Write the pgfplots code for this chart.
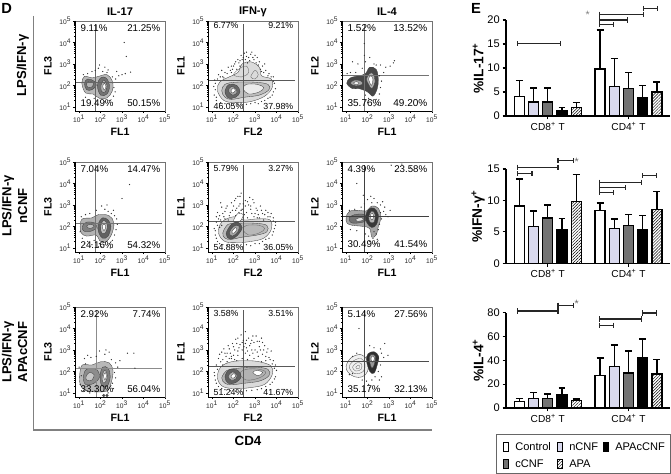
\documentclass[border=0pt]{standalone}
\usepackage{fontspec}
\setmainfont{Liberation Sans}
\usepackage{pgfplots}
\pgfplotsset{compat=1.18}
\usetikzlibrary{patterns.meta}

% fonts, sizes in pt (1 px of the reference = 0.75 pt)
\newcommand\fsz[1]{\fontsize{#1}{#1}\selectfont}
\definecolor{lav}{HTML}{D9D9EE}
\definecolor{midgray}{HTML}{737373}

% one contour of a flow plot: fill shade, then the closed outline in log10 units
\newcommand\ct[2]{\addplot[smooth cycle,tension=0.6,draw=black!75,line width=0.25pt,fill=black!#1] coordinates {#2};}
\newcommand\cln[1]{\addplot[smooth cycle,tension=0.6,draw=black!60,line width=0.25pt] coordinates {#1};}
\newcommand\pts[1]{\addplot[only marks,mark=*,mark size=0.22pt,black!80] coordinates {#1};}
% quadrant lines: vertical x, horizontal y, shade
\newcommand\quadr[3]{%
  \addplot[black!#3,line width=0.7pt] coordinates {(#1,0.81) (#1,4.85)};
  \addplot[black!#3,line width=0.7pt] coordinates {(0.81,#2) (4.85,#2)};
  \draw[black,line width=0.6pt] (rel axis cs:0,1) -- (rel axis cs:0,0) -- (rel axis cs:1,0);}
\newcommand\pct[6]{%
  \node[anchor=west,font=\fsz{#6}] at (rel axis cs:0.01,#5) {#1};
  \node[anchor=east,font=\fsz{#6}] at (rel axis cs:1.0,#5) {#2};}
\newcommand\pctb[6]{%
  \node[anchor=west,font=\fsz{#6}] at (rel axis cs:0.01,#5) {#3};
  \node[anchor=east,font=\fsz{#6}] at (rel axis cs:1.0,#5) {#4};}
% legend swatch and name: left x of swatch, y (both in px of the reference), swatch style, name
\newcommand\lgd[4]{%
  \draw[black,line width=0.9pt,#3] ({(#1+0.5)*0.75pt},{(474-#2-4.2)*0.75pt}) rectangle ({(#1+5.5)*0.75pt},{(474-#2+4.2)*0.75pt});
  \node[anchor=base west,inner sep=0pt,font=\fsz{8.3}] at ({(#1+12)*0.75pt},{(474-#2-3.8)*0.75pt}) {#4};}

\pgfplotsset{
  flow/.style={
    scale only axis,width=67.5pt,height=67.5pt,anchor=south west,clip=false,
    xmin=0.81,xmax=5,ymin=0.81,ymax=5,
    xtick={1,2,3,4,5},ytick={1,2,3,4,5},
    xticklabels={10\textsuperscript{1},10\textsuperscript{2},10\textsuperscript{3},10\textsuperscript{4},10\textsuperscript{5}},
    yticklabels={10\textsuperscript{1},10\textsuperscript{2},10\textsuperscript{3},10\textsuperscript{4},10\textsuperscript{5}},
    minor xtick={1.3,1.48,1.6,1.7,1.78,1.85,1.9,1.95,2.3,2.48,2.6,2.7,2.78,2.85,2.9,2.95,3.3,3.48,3.6,3.7,3.78,3.85,3.9,3.95,4.3,4.48,4.6,4.7,4.78,4.85,4.9,4.95},
    minor ytick={1.3,1.48,1.6,1.7,1.78,1.85,1.9,1.95,2.3,2.48,2.6,2.7,2.78,2.85,2.9,2.95,3.3,3.48,3.6,3.7,3.78,3.85,3.9,3.95,4.3,4.48,4.6,4.7,4.78,4.85,4.9,4.95},
    tick pos=left,tick align=outside,major tick length=1.6pt,minor tick length=0.9pt,
    tick style={black,line width=0.35pt},
    ticklabel style={font=\fsz{5},black!85,inner sep=1pt},
    axis line style={black!55,line width=0.6pt},
    title style={font=\bfseries\fsz{8.3},at={(axis description cs:0.5,1.1)},anchor=center,yshift=-6pt},
    xlabel style={font=\bfseries\fsz{8},at={(axis description cs:0.5,-0.233)},anchor=center},
    ylabel style={font=\bfseries\fsz{8},at={(axis description cs:-0.3,0.5)},anchor=center,rotate=0},
  },
  bars/.style={
    scale only axis,width=123pt,anchor=south west,clip=false,
    xmin=-0.94,xmax=10.6,ymin=0,
    axis lines*=left,axis line style={-,line width=1pt},
    xtick={2,7.68},xticklabels={CD8\textsuperscript{+} T,CD4\textsuperscript{+} T},
    tick style={black,line width=0.8pt},tick align=outside,major tick length=2.5pt,
    /pgf/number format/assume math mode=true,
    xticklabel style={font=\fsz{7.6},inner sep=2pt},
    yticklabel style={font=\fsz{8.3},inner sep=2pt},
    ylabel style={font=\bfseries\fsz{10.3},at={(axis description cs:-0.17,0.5)},anchor=center,rotate=0},
  },
  bar/.style={ybar,bar width=7.5pt,bar shift=0pt,draw=black,line width=1pt,forget plot,
    error bars/y dir=plus,error bars/y explicit,
    error bars/error bar style={line width=1pt,black},
    error bars/error mark options={rotate=90,mark size=2.6pt,line width=1pt,black}},
  hatch/.style={pattern={Lines[angle=45,distance=1.6pt,line width=0.35pt]}},
  brk/.style={sharp plot,black!85,line width=0.8pt,mark=|,mark size=1.9pt,forget plot},
}

\begin{document}
\begin{tikzpicture}
\path[use as bounding box] (0,0) rectangle (503.25pt,355.5pt);

% frame of panel D
\draw[black!50,line width=1pt] (25pt,343.5pt) -- (25pt,33pt) -- (324pt,33pt);
\node[font=\bfseries\fsz{11}] at (5pt,349pt) {D};
\node[font=\bfseries\fsz{11}] at (357pt,349pt) {E};
\node[font=\bfseries\fsz{10}] at (186pt,24.5pt) {CD4};
\node[font=\bfseries\fsz{9.8},rotate=90] at (17pt,306.5pt) {LPS/IFN-γ};
\node[font=\bfseries\fsz{9.8},rotate=90] at (6pt,201pt) {LPS/IFN-γ};
\node[font=\bfseries\fsz{9.8},rotate=90] at (17pt,201pt) {nCNF};
\node[font=\bfseries\fsz{9.8},rotate=90] at (6pt,91.5pt) {LPS/IFN-γ};
\node[font=\bfseries\fsz{9.8},rotate=90] at (17pt,91.5pt) {APAcCNF};

%---- row 1 ----
\begin{axis}[flow,at={({75*0.75pt},{(474-111)*0.75pt})},title={IL-17},xlabel={FL1},ylabel={FL3}]
\pts{(1.6,2.65)(1.75,2.7)(1.9,2.8)(2.1,2.65)(2.3,2.6)(2.55,2.4)(2.7,2.3)(2.85,2.45)(3.0,2.5)(3.15,2.55)(3.4,2.62)(1.95,2.95)(2.2,2.85)(1.4,2.55)(1.2,2.5)(2.62,1.9)(2.68,1.7)(2.6,1.5)(1.3,1.45)(1.7,1.4)(2.2,1.25)(2.4,1.3)(3.2,3.35)(3.1,4.0)(2.75,2.65)(2.35,2.72)}
\ct{28}{(1.13,2.1)(1.25,2.42)(1.6,2.35)(1.9,2.42)(2.3,2.5)(2.55,2.2)(2.55,1.75)(2.3,1.42)(1.95,1.4)(1.65,1.6)(1.3,1.65)}
\ct{55}{(1.25,2.1)(1.4,2.3)(1.7,2.2)(1.8,2.0)(1.6,1.8)(1.35,1.8)}
\ct{55}{(1.85,2.0)(2.0,2.35)(2.25,2.35)(2.42,2.0)(2.3,1.6)(2.0,1.55)}
\ct{30}{(1.35,2.08)(1.5,2.2)(1.68,2.08)(1.55,1.9)(1.4,1.92)}
\ct{30}{(2.02,2.0)(2.15,2.25)(2.3,2.0)(2.22,1.7)(2.05,1.72)}
\ct{0}{(2.1,1.95)(2.17,2.1)(2.25,1.95)(2.18,1.78)}
\quadr{1.78}{2.12}{60}
\pct{9.11\%}{21.25\%}{}{}{0.92}{7.3}
\pctb{}{}{19.49\%}{50.15\%}{0.09}{7.3}
\end{axis}

\begin{axis}[flow,at={({208*0.75pt},{(474-111)*0.75pt})},title={IFN-γ},xlabel={FL2},ylabel={FL1}]
\pts{(1.3,2.5)(1.45,2.7)(1.6,2.6)(1.75,2.85)(1.9,2.6)(2.05,3.0)(2.2,3.2)(2.3,2.9)(2.45,3.3)(2.6,3.35)(2.75,3.15)(2.9,3.3)(3.05,3.05)(3.2,3.1)(3.35,2.9)(3.5,2.7)(3.65,2.55)(3.85,2.4)(3.9,2.1)(3.95,1.85)(3.8,1.55)(3.6,1.4)(3.3,1.25)(3.0,1.2)(2.6,1.12)(2.2,1.1)(1.8,1.12)(1.4,1.2)(1.2,1.45)(1.15,1.8)(1.15,2.1)(1.25,2.3)(2.5,3.5)(2.35,3.4)(2.8,3.45)(3.1,3.3)(3.45,3.0)(1.95,2.75)(2.15,2.75)(2.65,3.05)(3.3,2.65)(1.55,2.35)}
\pts{(1.1,1.55)(1.2,1.3)(1.35,1.15)(1.5,2.4)(1.7,2.55)(1.85,2.7)(2.0,2.9)(2.1,3.1)(2.25,3.05)(2.55,3.2)(2.7,3.3)(2.95,3.2)(3.15,2.95)(3.25,2.75)(3.4,2.6)(3.6,2.45)(3.75,2.4)(3.85,2.2)(3.85,1.7)(3.7,1.45)(3.45,1.3)(3.15,1.15)(2.8,1.15)(2.4,1.1)(2.0,1.1)(1.6,1.15)(1.08,1.95)(1.12,2.25)(1.38,2.4)(2.4,3.2)(3.0,3.4)(2.85,3.55)(2.6,3.55)(2.3,3.15)(1.9,2.9)}
\ct{14}{(1.25,1.75)(1.35,2.15)(1.8,2.4)(2.2,2.6)(2.4,3.0)(2.8,3.1)(3.2,2.85)(3.3,2.45)(3.75,2.3)(3.8,1.9)(3.45,1.5)(2.8,1.25)(2.1,1.2)(1.55,1.3)}
\cln{(2.0,2.5)(2.3,2.8)(2.6,2.9)(2.7,2.6)(2.4,2.4)}
\cln{(2.8,2.4)(3.0,2.7)(3.15,2.5)(3.0,2.3)}
\ct{26}{(1.45,1.75)(1.6,2.05)(2.1,2.15)(3.0,2.15)(3.6,2.05)(3.65,1.8)(3.2,1.55)(2.5,1.45)(1.9,1.35)(1.6,1.45)}
\ct{8}{(2.45,1.85)(2.6,2.05)(3.1,2.05)(3.4,1.9)(3.2,1.7)(2.7,1.6)}
\ct{60}{(1.6,1.75)(1.8,2.05)(2.15,2.0)(2.3,1.7)(2.1,1.45)(1.75,1.42)}
\ct{35}{(1.75,1.75)(1.9,1.95)(2.1,1.85)(2.15,1.65)(1.95,1.55)}
\ct{0}{(1.88,1.75)(2.0,1.88)(2.08,1.75)(1.95,1.65)}
\quadr{2.46}{2.25}{65}
\pct{6.77\%}{9.21\%}{}{}{0.945}{6.6}
\pctb{}{}{46.05\%}{37.98\%}{0.05}{6.6}
\end{axis}

\begin{axis}[flow,at={({342*0.75pt},{(474-111)*0.75pt})},title={IL-4},xlabel={FL1},ylabel={FL2}]
\pts{(1.3,3.1)(1.55,3.0)(1.75,2.8)(1.9,3.1)(2.1,3.3)(2.3,3.0)(2.6,2.95)(2.85,2.85)(3.05,2.9)(3.2,3.05)(3.25,3.15)(2.55,2.45)(2.65,2.2)(2.6,1.9)(2.55,1.6)(2.4,1.35)(2.2,1.3)(2.05,1.4)(1.9,1.55)(2.0,1.2)(2.45,1.1)(2.3,1.05)(1.85,3.95)(1.85,3.4)(1.2,2.6)(1.05,2.55)(1.45,2.6)(2.4,2.95)(2.75,2.6)}
\ct{72}{(1.03,2.1)(1.2,2.35)(1.6,2.45)(1.9,2.55)(2.1,2.85)(2.4,2.75)(2.5,2.3)(2.45,1.85)(2.25,1.5)(2.0,1.7)(1.6,1.85)(1.3,1.85)}
\ct{35}{(1.2,2.1)(1.4,2.25)(1.7,2.2)(1.75,2.05)(1.45,1.98)}
\ct{5}{(1.35,2.12)(1.5,2.18)(1.6,2.08)(1.45,2.03)}
\ct{30}{(1.95,2.3)(2.1,2.55)(2.25,2.55)(2.35,2.2)(2.2,1.85)(2.05,2.05)}
\ct{0}{(2.05,2.3)(2.15,2.45)(2.25,2.3)(2.18,2.0)}
\quadr{1.85}{2.46}{55}
\pct{1.52\%}{13.52\%}{}{}{0.92}{7.5}
\pctb{}{}{35.76\%}{49.20\%}{0.09}{7.5}
\end{axis}

%---- row 2 ----
\begin{axis}[flow,at={({75*0.75pt},{(474-252)*0.75pt})},xlabel={FL1},ylabel={FL3}]
\pts{(1.1,2.45)(1.3,2.55)(1.5,2.6)(1.8,2.75)(2.05,2.95)(2.2,2.8)(2.35,2.7)(2.5,2.6)(2.65,2.5)(2.75,2.35)(2.78,2.1)(2.72,1.85)(2.65,1.6)(2.55,1.35)(2.4,1.2)(2.15,1.15)(1.95,1.2)(2.05,1.05)(1.7,1.35)(1.4,1.3)(1.15,1.45)(1.05,1.75)(3.0,3.3)(3.35,3.95)(2.3,3.0)(2.6,2.75)(1.25,1.2)(1.9,1.05)(2.45,1.0)(1.6,1.15)}
\ct{30}{(1.05,2.0)(1.15,2.35)(1.6,2.4)(1.9,2.55)(2.4,2.5)(2.62,2.15)(2.5,1.6)(2.2,1.25)(1.95,1.35)(1.8,1.6)(1.35,1.55)(1.1,1.7)}
\ct{50}{(1.15,2.0)(1.35,2.2)(1.75,2.15)(1.78,1.9)(1.45,1.75)(1.2,1.8)}
\ct{62}{(1.88,2.1)(2.1,2.4)(2.35,2.3)(2.48,2.0)(2.35,1.55)(2.1,1.45)(1.92,1.7)}
\ct{25}{(1.35,2.02)(1.55,2.1)(1.7,2.0)(1.5,1.9)}
\ct{25}{(2.0,2.0)(2.15,2.28)(2.32,2.05)(2.22,1.7)(2.05,1.7)}
\ct{0}{(2.08,1.98)(2.16,2.12)(2.24,1.98)(2.16,1.8)}
\quadr{1.77}{2.15}{55}
\pct{7.04\%}{14.47\%}{}{}{0.92}{7.3}
\pctb{}{}{24.16\%}{54.32\%}{0.08}{7.3}
\end{axis}

\begin{axis}[flow,at={({208*0.75pt},{(474-252)*0.75pt})},xlabel={FL2},ylabel={FL1}]
\pts{(1.35,2.5)(1.45,2.9)(1.4,3.1)(1.6,2.7)(1.7,2.95)(1.8,2.5)(1.9,3.1)(1.95,2.75)(2.05,3.2)(2.15,2.85)(2.2,3.4)(2.3,3.05)(2.35,3.55)(2.4,2.8)(2.55,3.2)(2.6,2.65)(2.7,3.0)(2.75,3.35)(2.85,2.6)(2.95,3.1)(3.05,2.85)(3.15,2.55)(3.25,2.95)(3.35,2.6)(3.5,2.75)(3.6,2.45)(3.75,2.6)(3.85,2.4)(3.95,2.2)(3.9,1.9)(3.8,1.6)(3.5,1.4)(3.2,1.2)(2.8,1.1)(2.4,1.05)(1.9,1.1)(1.5,1.15)(1.25,1.3)(1.15,1.6)(1.1,1.9)(1.2,2.2)(1.3,2.35)(2.25,2.65)(2.5,2.55)(1.55,2.45)(2.1,2.5)(2.8,2.8)(3.1,2.4)(3.4,2.3)(3.0,2.6)(1.75,2.3)(1.35,1.95)}
\pts{(1.25,2.65)(1.5,2.6)(1.65,2.85)(1.85,2.65)(2.0,2.95)(2.1,3.3)(2.3,3.4)(2.45,3.05)(2.65,3.15)(2.8,2.95)(2.9,3.25)(3.1,2.75)(3.3,2.75)(3.45,2.55)(3.6,2.65)(3.7,2.45)(3.85,2.25)(3.95,2.05)(3.85,1.75)(3.65,1.45)(3.35,1.3)(3.0,1.2)(2.6,1.15)(2.15,1.12)(1.7,1.12)(1.35,1.2)(1.2,1.45)(1.15,1.8)(1.25,2.05)(1.4,2.3)(1.6,2.35)(2.35,2.75)(2.55,2.95)(2.95,2.45)(3.2,2.4)(1.45,2.05)(2.1,2.75)(1.2,2.45)(2.25,2.95)(2.65,2.4)}
\ct{14}{(1.3,1.7)(1.45,2.2)(2.0,2.45)(2.5,2.3)(3.1,2.35)(3.7,2.3)(3.75,1.85)(3.4,1.45)(2.8,1.3)(2.2,1.25)(1.6,1.3)}
\ct{0}{(2.0,2.25)(2.2,2.6)(2.45,2.55)(2.3,2.25)}
\ct{28}{(1.5,1.7)(1.75,2.1)(2.2,2.15)(3.0,2.15)(3.55,2.05)(3.55,1.75)(3.1,1.6)(2.4,1.5)(1.9,1.4)(1.6,1.45)}
\cln{(2.45,1.85)(2.6,2.05)(3.2,2.05)(3.45,1.9)(3.2,1.7)(2.7,1.6)}
\ct{65}{(1.65,1.65)(1.9,2.1)(2.2,2.2)(2.4,1.95)(2.2,1.6)(1.85,1.4)}
\ct{35}{(1.8,1.7)(2.0,2.0)(2.25,2.02)(2.2,1.75)(1.95,1.55)}
\ct{0}{(1.92,1.75)(2.08,1.95)(2.15,1.85)(2.0,1.68)}
\quadr{2.46}{2.22}{65}
\pct{5.79\%}{3.27\%}{}{}{0.93}{6.6}
\pctb{}{}{54.88\%}{36.05\%}{0.05}{6.6}
\end{axis}

\begin{axis}[flow,at={({342*0.75pt},{(474-252)*0.75pt})},xlabel={FL1},ylabel={FL2}]
\pts{(1.15,2.75)(1.4,2.8)(1.7,2.9)(1.85,3.05)(2.0,3.25)(1.8,3.45)(2.15,3.4)(2.3,3.3)(2.45,3.1)(2.6,3.0)(2.8,2.9)(2.75,2.7)(2.85,2.55)(2.95,2.45)(2.65,2.35)(2.55,2.1)(2.5,1.85)(2.4,1.65)(2.25,1.45)(2.1,1.3)(2.05,1.55)(2.35,1.2)(1.9,1.65)(1.2,1.85)(1.5,1.8)(1.5,4.0)(3.1,4.85)(3.3,4.6)(3.6,4.9)(4.0,4.75)(2.6,2.65)(2.2,3.1)(2.7,3.15)(2.3,1.75)(2.45,1.4)(3.05,2.75)}
\ct{35}{(1.0,2.4)(1.15,2.7)(1.6,2.75)(1.95,2.72)(2.2,2.95)(2.5,2.85)(2.62,2.4)(2.5,2.0)(2.4,1.6)(2.2,1.5)(2.1,1.9)(1.8,2.0)(1.3,2.05)(1.05,2.15)}
\ct{55}{(1.15,2.4)(1.4,2.55)(1.85,2.55)(1.9,2.25)(1.45,2.15)(1.2,2.2)}
\ct{12}{(1.45,2.32)(1.7,2.42)(1.8,2.3)(1.55,2.24)}
\ct{78}{(1.9,2.45)(2.05,2.8)(2.3,2.85)(2.5,2.55)(2.42,2.1)(2.2,1.95)(1.98,2.15)}
\ct{30}{(2.05,2.45)(2.2,2.72)(2.35,2.55)(2.3,2.2)(2.12,2.2)}
\ct{0}{(2.12,2.48)(2.22,2.62)(2.28,2.45)(2.2,2.3)}
\quadr{1.85}{2.48}{75}
\pct{4.39\%}{23.58\%}{}{}{0.92}{7.3}
\pctb{}{}{30.49\%}{41.54\%}{0.09}{7.3}
\end{axis}

%---- row 3 ----
\begin{axis}[flow,at={({75*0.75pt},{(474-397)*0.75pt})},xlabel={FL1},ylabel={FL3}]
\pts{(1.25,2.6)(1.4,2.75)(1.55,2.65)(1.8,2.7)(1.95,2.95)(2.2,2.8)(2.5,2.55)(2.7,2.4)(2.8,2.2)(2.65,1.95)(2.7,1.7)(2.55,1.45)(2.6,1.2)(2.35,1.0)(1.2,1.1)(1.05,1.4)(1.1,1.8)(1.0,2.2)(1.3,2.35)(2.9,2.5)(3.25,2.85)(3.55,2.85)(3.6,2.15)(2.25,3.0)(2.4,2.9)(1.5,1.0)}
\ct{28}{(1.03,1.85)(1.15,2.3)(1.6,2.3)(2.0,2.45)(2.4,2.4)(2.58,2.05)(2.5,1.5)(2.3,1.1)(1.7,1.05)(1.25,1.15)(1.05,1.4)}
\ct{45}{(1.2,1.75)(1.35,2.1)(1.8,2.1)(1.95,1.75)(1.7,1.45)(1.3,1.4)}
\ct{50}{(1.98,1.8)(2.1,2.2)(2.35,2.15)(2.45,1.75)(2.3,1.3)(2.05,1.35)}
\ct{22}{(1.32,1.75)(1.48,1.95)(1.7,1.85)(1.6,1.6)(1.38,1.58)}
\ct{18}{(2.08,1.8)(2.2,2.05)(2.32,1.8)(2.22,1.5)(2.1,1.5)}
\ct{0}{(2.14,1.8)(2.22,1.95)(2.27,1.78)(2.2,1.6)}
\addplot[only marks,mark=*,mark size=0.9pt,black!70] coordinates {(2.15,0.88)(2.3,0.88)};
\quadr{1.82}{2.15}{45}
\pct{2.92\%}{7.74\%}{}{}{0.92}{7.3}
\pctb{}{}{33.30\%}{56.04\%}{0.09}{7.3}
\end{axis}

\begin{axis}[flow,at={({208*0.75pt},{(474-397)*0.75pt})},xlabel={FL2},ylabel={FL1}]
\pts{(1.3,2.6)(1.45,2.9)(1.55,3.05)(1.65,2.7)(1.75,3.2)(1.85,2.85)(1.95,3.3)(2.05,3.0)(2.1,3.5)(2.2,2.75)(2.3,3.25)(2.35,3.7)(2.45,3.45)(2.55,3.85)(2.6,3.1)(2.7,3.55)(2.8,3.3)(2.9,3.65)(3.0,3.0)(3.1,3.4)(3.2,3.15)(3.3,3.55)(3.35,2.8)(3.45,3.2)(3.55,2.9)(3.65,2.65)(3.75,2.95)(3.85,2.5)(3.95,2.3)(4.0,2.05)(3.95,1.75)(3.8,1.5)(3.5,1.3)(3.1,1.15)(2.6,1.1)(2.1,1.08)(1.6,1.15)(1.3,1.3)(1.15,1.6)(1.1,1.95)(1.2,2.3)(1.4,2.45)(1.7,2.45)(1.9,2.6)(2.15,2.5)(2.4,2.6)(2.55,2.85)(2.75,2.75)(2.95,2.6)(3.15,2.7)(3.3,2.45)(3.5,2.5)(2.25,3.1)(2.85,3.0)(3.05,3.65)(2.65,2.55)(1.6,2.85)(2.0,2.75)(2.48,3.15)(3.25,3.0)}
\pts{(1.35,2.8)(1.5,2.55)(1.7,2.85)(1.8,3.05)(1.9,2.7)(2.0,3.15)(2.15,3.3)(2.2,2.95)(2.4,3.0)(2.4,3.35)(2.55,3.3)(2.65,2.95)(2.75,3.2)(2.9,2.85)(2.95,3.35)(3.1,2.9)(3.2,3.4)(3.4,3.0)(3.5,2.7)(3.6,3.05)(3.7,2.55)(3.8,2.35)(3.9,2.15)(3.9,1.65)(3.7,1.4)(3.3,1.2)(2.85,1.12)(2.35,1.08)(1.85,1.1)(1.45,1.2)(1.2,1.45)(1.12,1.8)(1.25,2.1)(1.5,2.3)(1.8,2.6)(2.05,2.55)(2.6,3.45)(2.85,3.45)(3.35,3.35)(2.2,3.55)}
\ct{14}{(1.25,1.7)(1.4,2.2)(1.9,2.45)(2.6,2.5)(3.2,2.45)(3.75,2.25)(3.8,1.85)(3.45,1.4)(2.8,1.25)(2.1,1.2)(1.5,1.3)}
\ct{30}{(1.45,1.7)(1.7,2.05)(2.2,2.15)(3.0,2.2)(3.6,2.1)(3.65,1.8)(3.2,1.55)(2.5,1.45)(1.9,1.38)(1.6,1.45)}
\cln{(2.3,1.9)(2.6,2.1)(3.2,2.1)(3.5,1.95)(3.2,1.7)(2.6,1.6)}
\ct{0}{(2.9,1.95)(3.1,2.05)(3.35,1.95)(3.15,1.8)}
\ct{62}{(1.6,1.75)(1.8,2.08)(2.2,2.05)(2.35,1.75)(2.1,1.48)(1.75,1.45)}
\ct{30}{(1.75,1.78)(1.95,1.98)(2.15,1.85)(2.1,1.65)(1.88,1.6)}
\ct{0}{(1.88,1.78)(2.02,1.9)(2.1,1.78)(1.96,1.68)}
\quadr{2.46}{2.22}{65}
\pct{3.58\%}{3.51\%}{}{}{0.93}{6.6}
\pctb{}{}{51.24\%}{41.67\%}{0.05}{6.6}
\end{axis}

\begin{axis}[flow,at={({342*0.75pt},{(474-397)*0.75pt})},xlabel={FL1},ylabel={FL2}]
\pts{(1.6,4.0)(2.1,3.2)(2.3,3.1)(2.6,3.05)(2.8,3.3)(2.65,2.85)(2.75,2.65)(2.95,2.75)(1.5,2.85)(1.3,2.7)(2.6,2.3)(2.5,2.0)(2.35,1.75)(2.55,1.6)(2.2,1.6)(1.95,1.55)(2.05,1.4)(2.1,1.25)(1.75,1.6)(1.3,1.9)(2.65,1.75)(1.15,1.85)}
\ct{6}{(1.0,2.25)(1.25,2.65)(1.7,2.78)(2.0,2.5)(2.0,2.0)(1.75,1.75)(1.4,1.75)(1.1,1.95)}
\cln{(1.15,2.2)(1.35,2.5)(1.7,2.6)(1.88,2.35)(1.8,2.0)(1.4,1.9)}
\cln{(1.3,2.2)(1.5,2.4)(1.72,2.35)(1.7,2.1)(1.45,2.02)}
\cln{(1.45,2.2)(1.6,2.3)(1.62,2.15)(1.5,2.12)}
\ct{82}{(1.95,2.5)(2.02,2.82)(2.3,2.92)(2.52,2.7)(2.45,2.3)(2.3,1.92)(2.1,2.0)}
\ct{40}{(2.08,2.55)(2.15,2.78)(2.36,2.72)(2.32,2.35)(2.2,2.15)}
\ct{0}{(2.16,2.58)(2.22,2.72)(2.32,2.62)(2.24,2.42)}
\quadr{1.85}{2.48}{70}
\pct{5.14\%}{27.56\%}{}{}{0.92}{7.3}
\pctb{}{}{35.17\%}{32.13\%}{0.09}{7.3}
\end{axis}

%---- panel E ----
\begin{axis}[bars,height=72pt,at={({506*0.75pt},{(474-116)*0.75pt})},ymax=20,ytick={0,5,10,15,20},ylabel={\%IL-17\textsuperscript{+}}]
\addplot[bar,fill=white] coordinates {(0,4) +- (0,3.4) (5.68,9.8) +- (0,8.1)};
\addplot[bar,fill=lav] coordinates {(1,2.9) +- (0,2.9) (6.68,6.2) +- (0,5.8)};
\addplot[bar,fill=black] coordinates {(3,1.2) +- (0,0.55) (8.68,3.8) +- (0,2.6)};
\addplot[bar,fill=midgray] coordinates {(2,2.9) +- (0,2.9) (7.68,5.7) +- (0,3.4)};
\addplot[bar,hatch] coordinates {(4,1.7) +- (0,1.1) (9.68,5) +- (0,2.1)};
\addplot[brk] coordinates {(-0.12,15.06) (2.89,15.06)};
\addplot[brk] coordinates {(5.66,19.1) (6.64,19.1)};
\addplot[brk] coordinates {(5.66,20) (7.6,20)};
\addplot[brk] coordinates {(5.66,21.2) (8.73,21.2)};
\addplot[brk] coordinates {(8.76,22.4) (9.74,22.4)};
\node[font=\fsz{8},black!50] at (axis cs:4.81,21.1) {*};
\end{axis}

\begin{axis}[bars,height=70.7pt,at={({506*0.75pt},{(474-263.3)*0.75pt})},ymax=15,ytick={0,5,10,15},ylabel={\%IFN-γ\textsuperscript{+}}]
\addplot[bar,fill=white] coordinates {(0,9.1) +- (0,4.3) (5.68,8.4) +- (0,1.2)};
\addplot[bar,fill=lav] coordinates {(1,5.9) +- (0,2.4) (6.68,5.5) +- (0,1.55)};
\addplot[bar,fill=black] coordinates {(3,5.4) +- (0,1.75) (8.68,5.3) +- (0,2.3)};
\addplot[bar,fill=midgray] coordinates {(2,7.2) +- (0,2.1) (7.68,6.0) +- (0,1.8)};
\addplot[bar,hatch] coordinates {(4,9.8) +- (0,4.3) (9.68,8.6) +- (0,2.8)};
\addplot[brk] coordinates {(-0.12,14.25) (0.89,14.25)};
\addplot[brk] coordinates {(-0.12,15.3) (2.72,15.3)};
\addplot[brk] coordinates {(2.72,16.3) (3.8,16.3)};
\addplot[brk] coordinates {(5.66,11.2) (6.64,11.2)};
\addplot[brk] coordinates {(5.66,12) (7.49,12)};
\addplot[brk] coordinates {(5.66,12.9) (8.61,12.9)};
\addplot[brk] coordinates {(8.64,13.9) (9.67,13.9)};
\node[font=\fsz{8},black!60] at (axis cs:4.04,16.2) {*};
\end{axis}

\begin{axis}[bars,height=71.5pt,at={({506*0.75pt},{(474-408)*0.75pt})},ymax=80,ytick={0,20,40,60,80},ylabel={\%IL-4\textsuperscript{+}}]
\addplot[bar,fill=white] coordinates {(0,5.6) +- (0,2.4) (5.68,27) +- (0,15)};
\addplot[bar,fill=lav] coordinates {(1,7.8) +- (0,5.2) (6.68,35) +- (0,18)};
\addplot[bar,fill=black] coordinates {(3,11.5) +- (0,5.3) (8.68,42) +- (0,15.9)};
\addplot[bar,fill=midgray] coordinates {(2,7.8) +- (0,3.9) (7.68,29.4) +- (0,18.4)};
\addplot[bar,hatch] coordinates {(4,6.2) +- (0,1.3) (9.68,28.5) +- (0,12.3)};
\addplot[brk] coordinates {(-0.12,81.4) (2.72,81.4)};
\addplot[brk] coordinates {(2.72,86.4) (3.8,86.4)};
\addplot[brk] coordinates {(5.66,69.6) (6.64,69.6)};
\addplot[brk] coordinates {(5.66,74.7) (8.61,74.7)};
\addplot[brk] coordinates {(8.64,79.7) (9.67,79.7)};
\node[font=\fsz{8},black!60] at (axis cs:4.04,87.2) {*};
\end{axis}

% legend box
\draw[black!60,line width=0.6pt] ({496*0.75pt},{(474-434)*0.75pt}) rectangle ({670*0.75pt},{(474-473)*0.75pt});
\lgd{503}{447}{fill=white}{Control}
\lgd{557}{447}{fill=lav}{nCNF}
\lgd{603}{447}{fill=black}{APAcCNF}
\lgd{503}{464}{fill=midgray}{cCNF}
\lgd{557}{464}{pattern={Lines[angle=45,distance=1.6pt,line width=0.35pt]}}{APA}
\end{tikzpicture}
\end{document}
